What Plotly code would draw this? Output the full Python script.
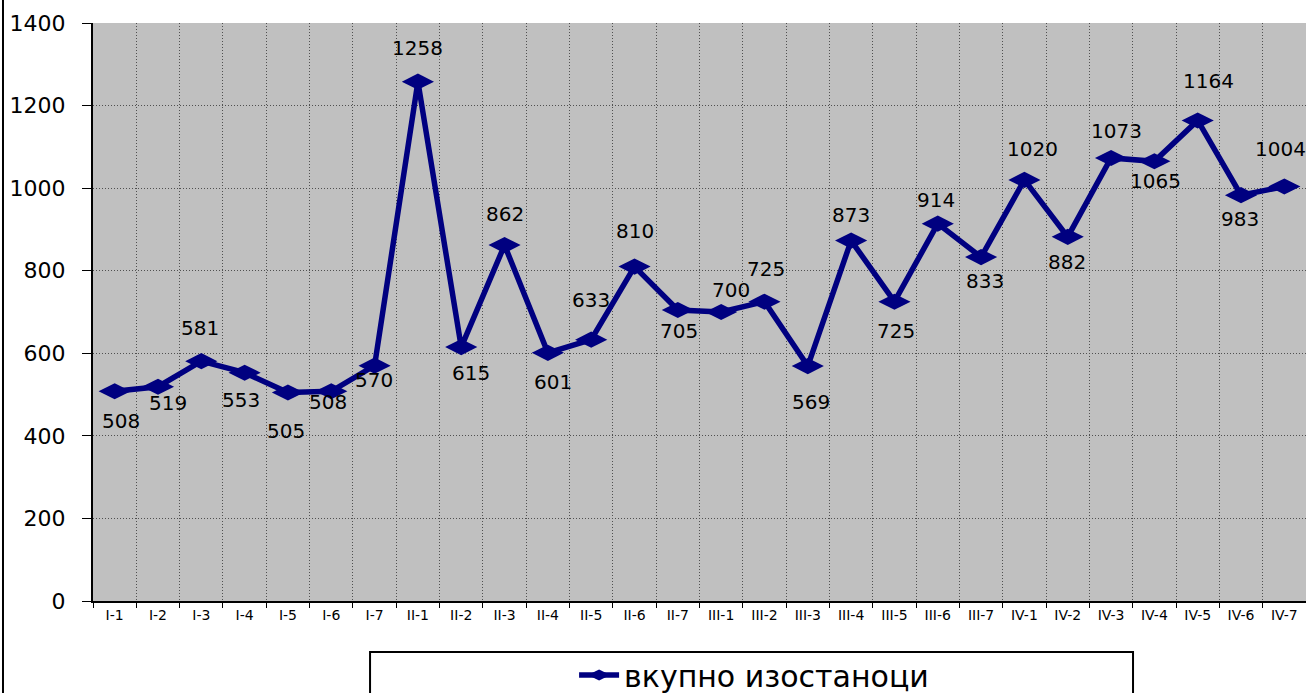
import plotly.graph_objects as go

categories = ["I-1", "I-2", "I-3", "I-4", "I-5", "I-6", "I-7",
              "II-1", "II-2", "II-3", "II-4", "II-5", "II-6", "II-7",
              "III-1", "III-2", "III-3", "III-4", "III-5", "III-6", "III-7",
              "IV-1", "IV-2", "IV-3", "IV-4", "IV-5", "IV-6", "IV-7"]
values = [508, 519, 581, 553, 505, 508, 570,
          1258, 615, 862, 601, 633, 810, 705,
          700, 725, 569, 873, 725, 914, 833,
          1020, 882, 1073, 1065, 1164, 983, 1004]
series_name = "вкупно изостаноци"
y_ticks = [0, 200, 400, 600, 800, 1000, 1200, 1400]

# label offsets (px): positive dy = downward on screen
label_dx = [6, 10, -1, -4, -2, -3, -1,
            0, 10, 0, 5, 0, 0, 1,
            10, 2, 3, 0, 2, -2, 4,
            8, -1, 5, 1, 11, -1, -4]
label_dy = [30, 16, -33, 27, 38, 11, 14,
            -34, 26, -31, 29, -40, -36, 21,
            -22, -33, 36, -26, 29, -24, 24,
            -31, 25, -27, 20, -39, 24, -37]

NAVY = "#000080"
FONT = "DejaVu Sans, Liberation Sans, Arial, sans-serif"
GRID = "#505050"

fig = go.Figure()
fig.add_trace(go.Scatter(
    x=categories, y=values, mode="lines+markers", name=series_name,
    line=dict(color=NAVY, width=5.5),
    marker=dict(symbol="diamond-wide", size=23, color=NAVY),
    showlegend=True,
))

for c, v, dx, dy in zip(categories, values, label_dx, label_dy):
    fig.add_annotation(x=c, y=v, text=str(v), showarrow=False,
                       xshift=dx, yshift=-dy, xanchor="center", yanchor="middle",
                       font=dict(family=FONT, size=20, color="black"))

# legend box and left border
fig.add_shape(type="rect", xref="paper", yref="paper",
              x0=0.2284, x1=0.8574, y0=-0.0882, y1=-0.25,
              line=dict(color="black", width=2), fillcolor="white", layer="below")
fig.add_shape(type="line", xref="paper", yref="paper",
              x0=-0.0742, x1=-0.0742, y0=-0.3, y1=1.2,
              line=dict(color="black", width=2))

fig.update_layout(
    width=1306, height=693,
    margin=dict(l=93, r=0, t=23, b=92, autoexpand=False),
    paper_bgcolor="white", plot_bgcolor="#C0C0C0",
    font=dict(family=FONT, color="black"),
    legend=dict(orientation="h", x=0.545, xanchor="center", y=-0.128, yanchor="middle",
                font=dict(family=FONT, size=30, color="black"),
                bgcolor="rgba(0,0,0,0)", itemwidth=40),
    xaxis=dict(type="category", categoryorder="array", categoryarray=categories,
               tickson="boundaries", ticks="outside", ticklen=5, tickcolor="black",
               showline=True, linecolor="black", linewidth=2,
               showgrid=True, gridcolor=GRID, griddash="1px,2px", gridwidth=1,
               tickfont=dict(family=FONT, size=14, color="black"),
               range=[-0.5, len(categories) - 0.5], fixedrange=True, automargin=False),
    yaxis=dict(range=[0, 1400], tickvals=y_ticks, ticks="outside", ticklen=9,
               tickcolor="black", showline=True, linecolor="black", linewidth=2,
               showgrid=True, gridcolor=GRID, griddash="1px,2px", gridwidth=1,
               zeroline=False, ticklabelstandoff=12,
               tickfont=dict(family=FONT, size=22, color="black"), fixedrange=True,
               automargin=False),
)

fig.write_html("out.html", config={"displayModeBar": False},
               post_script="document.body.style.margin='0';document.body.style.overflow='hidden';")
